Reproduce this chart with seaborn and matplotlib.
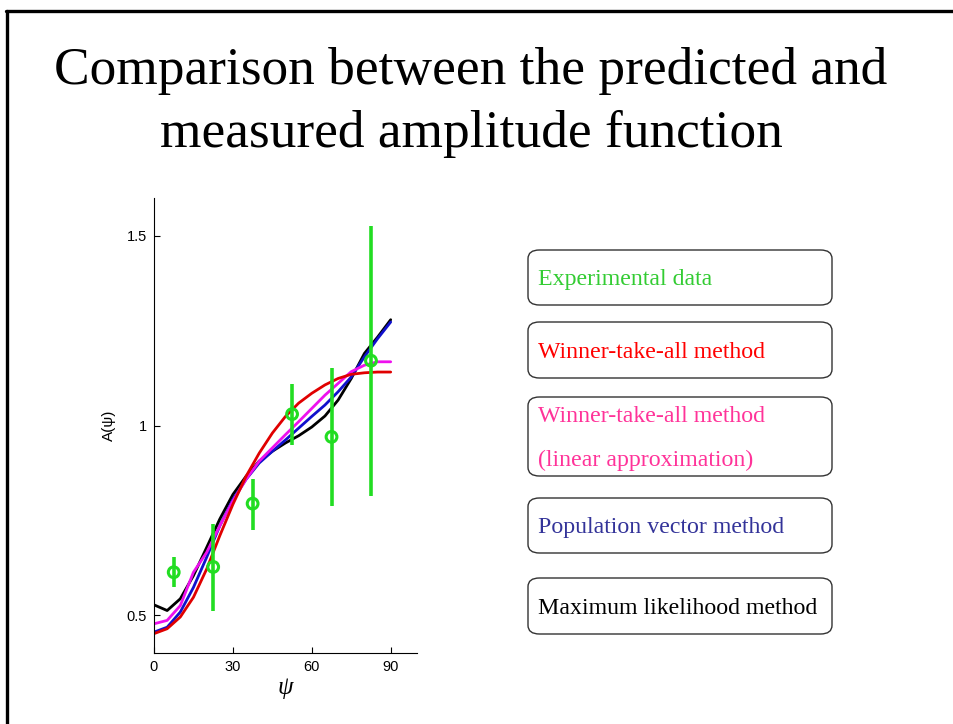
import matplotlib
matplotlib.use("Agg")
import matplotlib.pyplot as plt
from matplotlib.patches import FancyBboxPatch
from matplotlib.lines import Line2D
import seaborn as sns
import pandas as pd

# ---- data ----
psi_curve = [0, 5, 10, 15, 20, 25, 30, 35, 40, 45, 50, 55, 60, 65, 70, 75, 80, 85, 90]
ml_vals   = [0.527, 0.512, 0.543, 0.604, 0.678, 0.753, 0.818, 0.866, 0.906, 0.932,
             0.954, 0.973, 0.996, 1.025, 1.067, 1.124, 1.190, 1.233, 1.279]
pv_vals   = [0.455, 0.468, 0.508, 0.573, 0.652, 0.735, 0.805, 0.858, 0.901, 0.932,
             0.962, 0.993, 1.024, 1.054, 1.089, 1.128, 1.181, 1.229, 1.273]
wta_vals  = [0.451, 0.464, 0.495, 0.547, 0.621, 0.709, 0.792, 0.866, 0.927, 0.980,
             1.024, 1.059, 1.085, 1.107, 1.124, 1.135, 1.139, 1.141, 1.141]
wtal_vals = [0.477, 0.486, 0.525, 0.613, 0.665, 0.735, 0.801, 0.858, 0.906, 0.941,
             0.976, 1.010, 1.045, 1.080, 1.111, 1.142, 1.159, 1.168, 1.168]

psi_exp  = [7.5, 22.5, 37.5, 52.5, 67.5, 82.5]
amp_exp  = [0.613, 0.627, 0.794, 1.030, 0.970, 1.171]
err_low  = [0.573, 0.512, 0.724, 0.949, 0.787, 0.815]
err_high = [0.652, 0.741, 0.859, 1.109, 1.152, 1.525]

x_ticks = [0, 30, 60, 90]
y_ticks = [0.5, 1, 1.5]
y_tick_labels = ["0.5", "1", "1.5"]

title_lines = ["Comparison between the predicted and", "measured amplitude function"]
legend_items = [
    ("Experimental data", "#33cc33"),
    ("Winner-take-all method", "#ff0000"),
    ("Winner-take-all method\n(linear approximation)", "#ff3399"),
    ("Population vector method", "#333399"),
    ("Maximum likelihood method", "#000000"),
]

# ---- figure ----
sns.set_style("white")
plt.rcParams["font.family"] = ["Liberation Sans", "DejaVu Sans"]
plt.rcParams["text.color"] = "black"
plt.rcParams["axes.labelcolor"] = "black"

fig = plt.figure(figsize=(9.54, 7.24), dpi=100)
fig.patch.set_facecolor("white")

# slide frame
fig.add_artist(Line2D([6/954, 1.0], [1 - 11/724, 1 - 11/724], color="black", lw=2.4,
                      transform=fig.transFigure))
fig.add_artist(Line2D([7/954, 7/954], [1 - 11/724, 0.0], color="black", lw=2.4,
                      transform=fig.transFigure))

# title
serif = ["Liberation Serif", "DejaVu Serif"]
fig.text(471/954, 1 - 71/724, title_lines[0], ha="center", va="center",
         fontsize=38.4, family=serif, color="black")
fig.text(471/954, 1 - 134/724, title_lines[1], ha="center", va="center",
         fontsize=38.4, family=serif, color="black")

ax = fig.add_axes([154/954, 1 - 653/724, 263/954, 455/724])

curves = pd.DataFrame({
    "psi": psi_curve * 4,
    "A": ml_vals + pv_vals + wta_vals + wtal_vals,
    "method": (["ML"] * len(psi_curve) + ["PV"] * len(psi_curve)
               + ["WTA"] * len(psi_curve) + ["WTAL"] * len(psi_curve)),
})
palette = {"ML": "#000000", "PV": "#1010cc", "WTA": "#e00000", "WTAL": "#ee10ee"}
for m in ["ML", "PV", "WTAL", "WTA"]:
    sns.lineplot(data=curves[curves["method"] == m], x="psi", y="A", color=palette[m],
                 lw=2.0, ax=ax, legend=False, errorbar=None)

# experimental data
ax.vlines(psi_exp, err_low, err_high, color="#22dd22", lw=2.6, zorder=5)
sns.scatterplot(x=psi_exp, y=amp_exp, ax=ax, s=60, facecolor="none",
                edgecolor="#22dd22", linewidth=2.2, zorder=6, legend=False)

ax.set_xlim(0, 100)
ax.set_ylim(0.4, 1.6)
ax.set_xticks(x_ticks)
ax.set_yticks(y_ticks)
ax.set_yticklabels(y_tick_labels)
ax.tick_params(direction="in", length=4, width=0.8, labelsize=10.5, colors="black",
               bottom=True, left=True, pad=5)
for s in ["top", "right"]:
    ax.spines[s].set_visible(False)
for s in ["left", "bottom"]:
    ax.spines[s].set_color("black")
    ax.spines[s].set_linewidth(0.8)
ax.set_xlabel("ψ", fontsize=18, style="italic", family=serif, labelpad=2, color="black")
ax.set_ylabel("A(ψ)", fontsize=11, labelpad=8, color="black")

# legend boxes
boxes = [(250, 305), (322, 378), (397, 476), (498, 553), (578, 634)]
text_y = [[280], [352], [416, 460], [528], [608]]
for (label, col), (y0, y1), tys in zip(legend_items, boxes, text_y):
    bx = FancyBboxPatch((528/954, 1 - y1/724), (832 - 528)/954, (y1 - y0)/724,
                        boxstyle="round,pad=0,rounding_size=0.012",
                        transform=fig.transFigure, facecolor="white",
                        edgecolor="#333333", lw=1.0)
    fig.add_artist(bx)
    for line, ty in zip(label.split("\n"), tys):
        fig.text(538/954, 1 - ty/724, line, ha="left", va="center", color=col,
                 fontsize=17.2, family=serif)

fig.savefig("out.png", dpi=100, facecolor="white")
